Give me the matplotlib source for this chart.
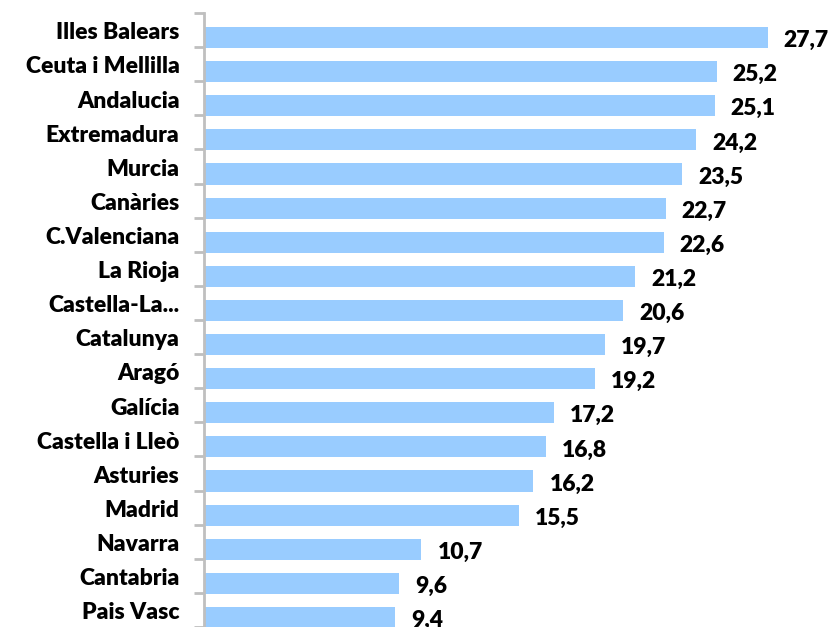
import matplotlib
matplotlib.use("Agg")
import matplotlib.pyplot as plt

regions = ["Illes Balears", "Ceuta i Mellilla", "Andalucia", "Extremadura", "Murcia",
           "Canàries", "C.Valenciana", "La Rioja", "Castella-La...", "Catalunya",
           "Aragó", "Galícia", "Castella i Lleò", "Asturies", "Madrid",
           "Navarra", "Cantabria", "Pais Vasc"]
values = [27.7, 25.2, 25.1, 24.2, 23.5, 22.7, 22.6, 21.2, 20.6, 19.7,
          19.2, 17.2, 16.8, 16.2, 15.5, 10.7, 9.6, 9.4]

plt.rcParams['font.family'] = ['Lato', 'DejaVu Sans']

W, H = 833, 627
fig = plt.figure(figsize=(W / 100, H / 100), dpi=100)
ax = fig.add_axes([203.5 / W, 0.0, 611 / W, 1 - 13 / H])

n = len(regions)
pos = list(range(n))
bar_off = 0.22
ax.barh([p + bar_off for p in pos], values, height=0.62, color="#99CCFF",
        edgecolor="none", zorder=2)

ax.set_xlim(0, 30)
ax.set_ylim(n - 0.5, -0.5)

# category labels and value labels
px = 30 / 611  # data units per pixel along x
for p, name, v in zip(pos, regions, values):
    ax.text(-24 * px, p + 0.08, name, ha="right", va="center",
            fontsize=16.5, fontweight="heavy", color="black", clip_on=False)
    ax.text(v + 16 * px, p + bar_off + 0.09, f"{v:.1f}".replace(".", ","),
            ha="left", va="center", fontsize=16.5, fontweight="heavy",
            color="black", clip_on=False)

# axis styling
for s in ["top", "right", "bottom"]:
    ax.spines[s].set_visible(False)
ax.spines["left"].set_color("#BFBFBF")
ax.spines["left"].set_linewidth(2)
ax.set_xticks([])
ax.set_yticks([p - 0.5 for p in range(n + 1)])
ax.set_yticklabels([])
ax.tick_params(axis="y", direction="out", length=7, width=2, color="#BFBFBF")

plt.savefig("out.png", dpi=100)
plt.close(fig)
